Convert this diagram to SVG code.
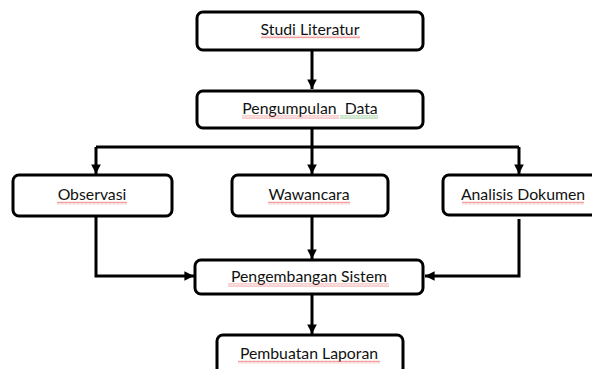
<svg xmlns="http://www.w3.org/2000/svg" width="592" height="369" viewBox="0 0 592 369">
<style>
.box{fill:#fff;stroke:#000;stroke-width:3}
.lbl{font-family:Lato,"Liberation Sans",sans-serif;font-size:15.8px;fill:#111;text-anchor:middle;white-space:pre}
.con{fill:none;stroke:#000;stroke-width:3}
</style>
<defs>
<marker id="ah" viewBox="0 0 10 10" refX="10" refY="5" markerWidth="3.2" markerHeight="3.2" orient="auto" markerUnits="strokeWidth">
<path d="M0,0 L10,5 L0,10 Z" fill="#000"/>
</marker>
<pattern id="wr" width="4" height="3" patternUnits="userSpaceOnUse">
<path d="M0,2.5 L1,0.5 L2,2.5 L3,0.5 L4,2.5" fill="none" stroke="#e86060" stroke-width="0.6"/>
</pattern>
<pattern id="wg" width="4" height="3" patternUnits="userSpaceOnUse">
<path d="M0,2.5 L1,0.5 L2,2.5 L3,0.5 L4,2.5" fill="none" stroke="#50a850" stroke-width="0.6"/>
</pattern>
</defs>
<rect width="592" height="369" fill="#fff"/>
<g id="connectors">
<path class="con" d="M312,50 V89" marker-end="url(#ah)"/>
<path class="con" d="M312,128 V147"/>
<path class="con" d="M96,147 H519"/>
<path class="con" d="M96,147 V174" marker-end="url(#ah)"/>
<path class="con" d="M312,147 V174" marker-end="url(#ah)"/>
<path class="con" d="M519,147 V174" marker-end="url(#ah)"/>
<path class="con" d="M96,216 V276 H194" marker-end="url(#ah)"/>
<path class="con" d="M312,216 V259" marker-end="url(#ah)"/>
<path class="con" d="M519,219 V276 H425" marker-end="url(#ah)"/>
<path class="con" d="M312,294 V334" marker-end="url(#ah)"/>
</g>
<g id="studi-literatur">
<rect class="box" x="197" y="12" width="226" height="38" rx="6"/>
<text class="lbl" x="310" y="34.5">Studi Literatur</text>
<rect x="261" y="35.5" width="99" height="3" fill="url(#wr)"/>
</g>
<g id="pengumpulan-data">
<rect class="box" x="197" y="91" width="226" height="37" rx="6"/>
<text class="lbl" x="310" y="114">Pengumpulan  Data</text>
<rect x="242" y="115.5" width="97" height="3" fill="url(#wr)"/>
<rect x="340" y="115.5" width="38" height="3" fill="url(#wg)"/>
</g>
<g id="observasi">
<rect class="box" x="13" y="175" width="159" height="41" rx="6"/>
<text class="lbl" x="92" y="200">Observasi</text>
<rect x="57" y="201.5" width="70" height="3" fill="url(#wr)"/>
</g>
<g id="wawancara">
<rect class="box" x="232" y="175" width="156" height="41" rx="6"/>
<text class="lbl" x="309" y="200">Wawancara</text>
<rect x="268" y="201.5" width="82" height="3" fill="url(#wr)"/>
</g>
<g id="analisis-dokumen">
<rect class="box" x="443" y="175" width="160" height="40" rx="6"/>
<text class="lbl" x="523" y="200">Analisis Dokumen</text>
<rect x="462" y="201.5" width="122" height="3" fill="url(#wr)"/>
</g>
<g id="pengembangan-sistem">
<rect class="box" x="195" y="260" width="228" height="34" rx="6"/>
<text class="lbl" x="309" y="282">Pengembangan Sistem</text>
<rect x="228" y="283.5" width="161" height="3" fill="url(#wr)"/>
</g>
<g id="pembuatan-laporan">
<rect class="box" x="217" y="335" width="186" height="44" rx="6"/>
<text class="lbl" x="309" y="359">Pembuatan Laporan</text>
<rect x="238" y="360.5" width="142" height="3" fill="url(#wr)"/>
</g>
</svg>
